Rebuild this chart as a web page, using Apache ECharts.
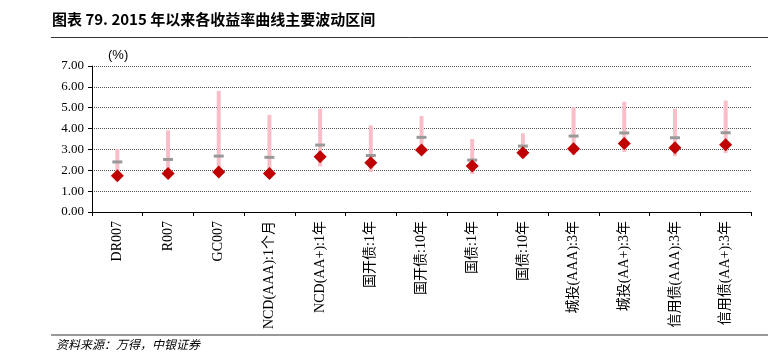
<!DOCTYPE html>
<html>
<head>
<meta charset="utf-8">
<script src="https://cdn.jsdelivr.net/npm/echarts@6/dist/echarts.min.js"></script>
<style>
html,body{margin:0;padding:0;background:#fff;}
#c{width:768px;height:359px;}
</style>
</head>
<body>
<div id="c"></div>
<script>
var categories = ['DR007','R007','GC007','NCD(AAA):1个月','NCD(AA+):1年','国开债:1年','国开债:10年','国债:1年','国债:10年','城投(AAA):3年','城投(AA+):3年','信用债(AAA):3年','信用债(AA+):3年'];
var highValues = [3.02,3.91,5.80,4.66,4.95,4.15,4.60,3.50,3.77,5.03,5.29,4.94,5.34];
var lowValues  = [1.62,1.72,1.82,1.72,2.19,1.92,2.85,1.82,2.59,2.73,2.88,2.67,2.83];
var midValues  = [2.40,2.52,2.68,2.62,3.21,2.71,3.58,2.49,3.16,3.64,3.79,3.56,3.80];
var curValues  = [1.74,1.84,1.92,1.85,2.65,2.36,2.97,2.20,2.84,3.03,3.29,3.08,3.23];
var yTicks = {min:0, max:7, interval:1};

var rangeData = categories.map(function(c,i){ return [i, lowValues[i], highValues[i]]; });

var chart = echarts.init(document.getElementById('c'), null, {renderer:'canvas'});
var serif = '"Liberation Serif","Times New Roman","Noto Sans CJK SC",serif';
chart.setOption({
  animation:false,
  backgroundColor:'#fff',
  grid:{left:92, right:17, top:66, bottom:147, containLabel:false},
  xAxis:{
    type:'category',
    data:categories,
    boundaryGap:true,
    axisLine:{show:true, lineStyle:{color:'#000', width:1}},
    axisTick:{show:true, length:4, lineStyle:{color:'#000'}},
    axisLabel:{rotate:90, margin:9, color:'#000', fontSize:14, fontFamily:serif, interval:0},
    splitLine:{show:false}
  },
  yAxis:{
    type:'value',
    min:yTicks.min, max:yTicks.max, interval:yTicks.interval,
    axisLine:{show:true, lineStyle:{color:'#000', width:1}},
    axisTick:{show:true, length:4, lineStyle:{color:'#000'}},
    axisLabel:{color:'#000', fontSize:13, fontFamily:serif, margin:8,
      formatter:function(v){return v.toFixed(2);}},
    splitLine:{show:true, lineStyle:{color:'#555', width:1, type:'dotted'}}
  },
  series:[
    {
      type:'custom',
      z:1,
      data:rangeData,
      renderItem:function(params, api){
        var x = api.value(0);
        var lo = api.coord([x, api.value(1)]);
        var hi = api.coord([x, api.value(2)]);
        var w = 4;
        return {
          type:'rect',
          shape:{x:lo[0]-w/2, y:hi[1], width:w, height:lo[1]-hi[1]},
          style:{fill:'#F9BEC7'}
        };
      },
      encode:{x:0, y:[1,2]}
    },
    {
      type:'scatter',
      z:2,
      data:midValues,
      symbol:'rect',
      symbolSize:[10,3],
      itemStyle:{color:'#999999', opacity:1}
    },
    {
      type:'scatter',
      z:3,
      data:curValues,
      symbol:'diamond',
      symbolSize:13,
      itemStyle:{color:'#C00000', opacity:1}
    }
  ],
  graphic:[
    {type:'text', left:52, top:12, style:{text:'图表 79. 2015 年以来各收益率曲线主要波动区间', font:'bold 15px "Noto Sans CJK SC", sans-serif', fill:'#000'}},
    {type:'line', shape:{x1:51, y1:37.5, x2:768, y2:37.5}, style:{stroke:'#333', lineWidth:1}},
    {type:'text', left:108, top:49, style:{text:'(%)', font:'13px "Liberation Sans", Arial, sans-serif', fill:'#000'}},
    {type:'line', shape:{x1:51, y1:335, x2:768, y2:335}, style:{stroke:'#999', lineWidth:2}},
    {type:'text', left:56, top:338, style:{text:'资料来源：万得，中银证券', font:'italic 12px "Noto Sans CJK SC", sans-serif', fill:'#000'}}
  ]
});
</script>
</body>
</html>
